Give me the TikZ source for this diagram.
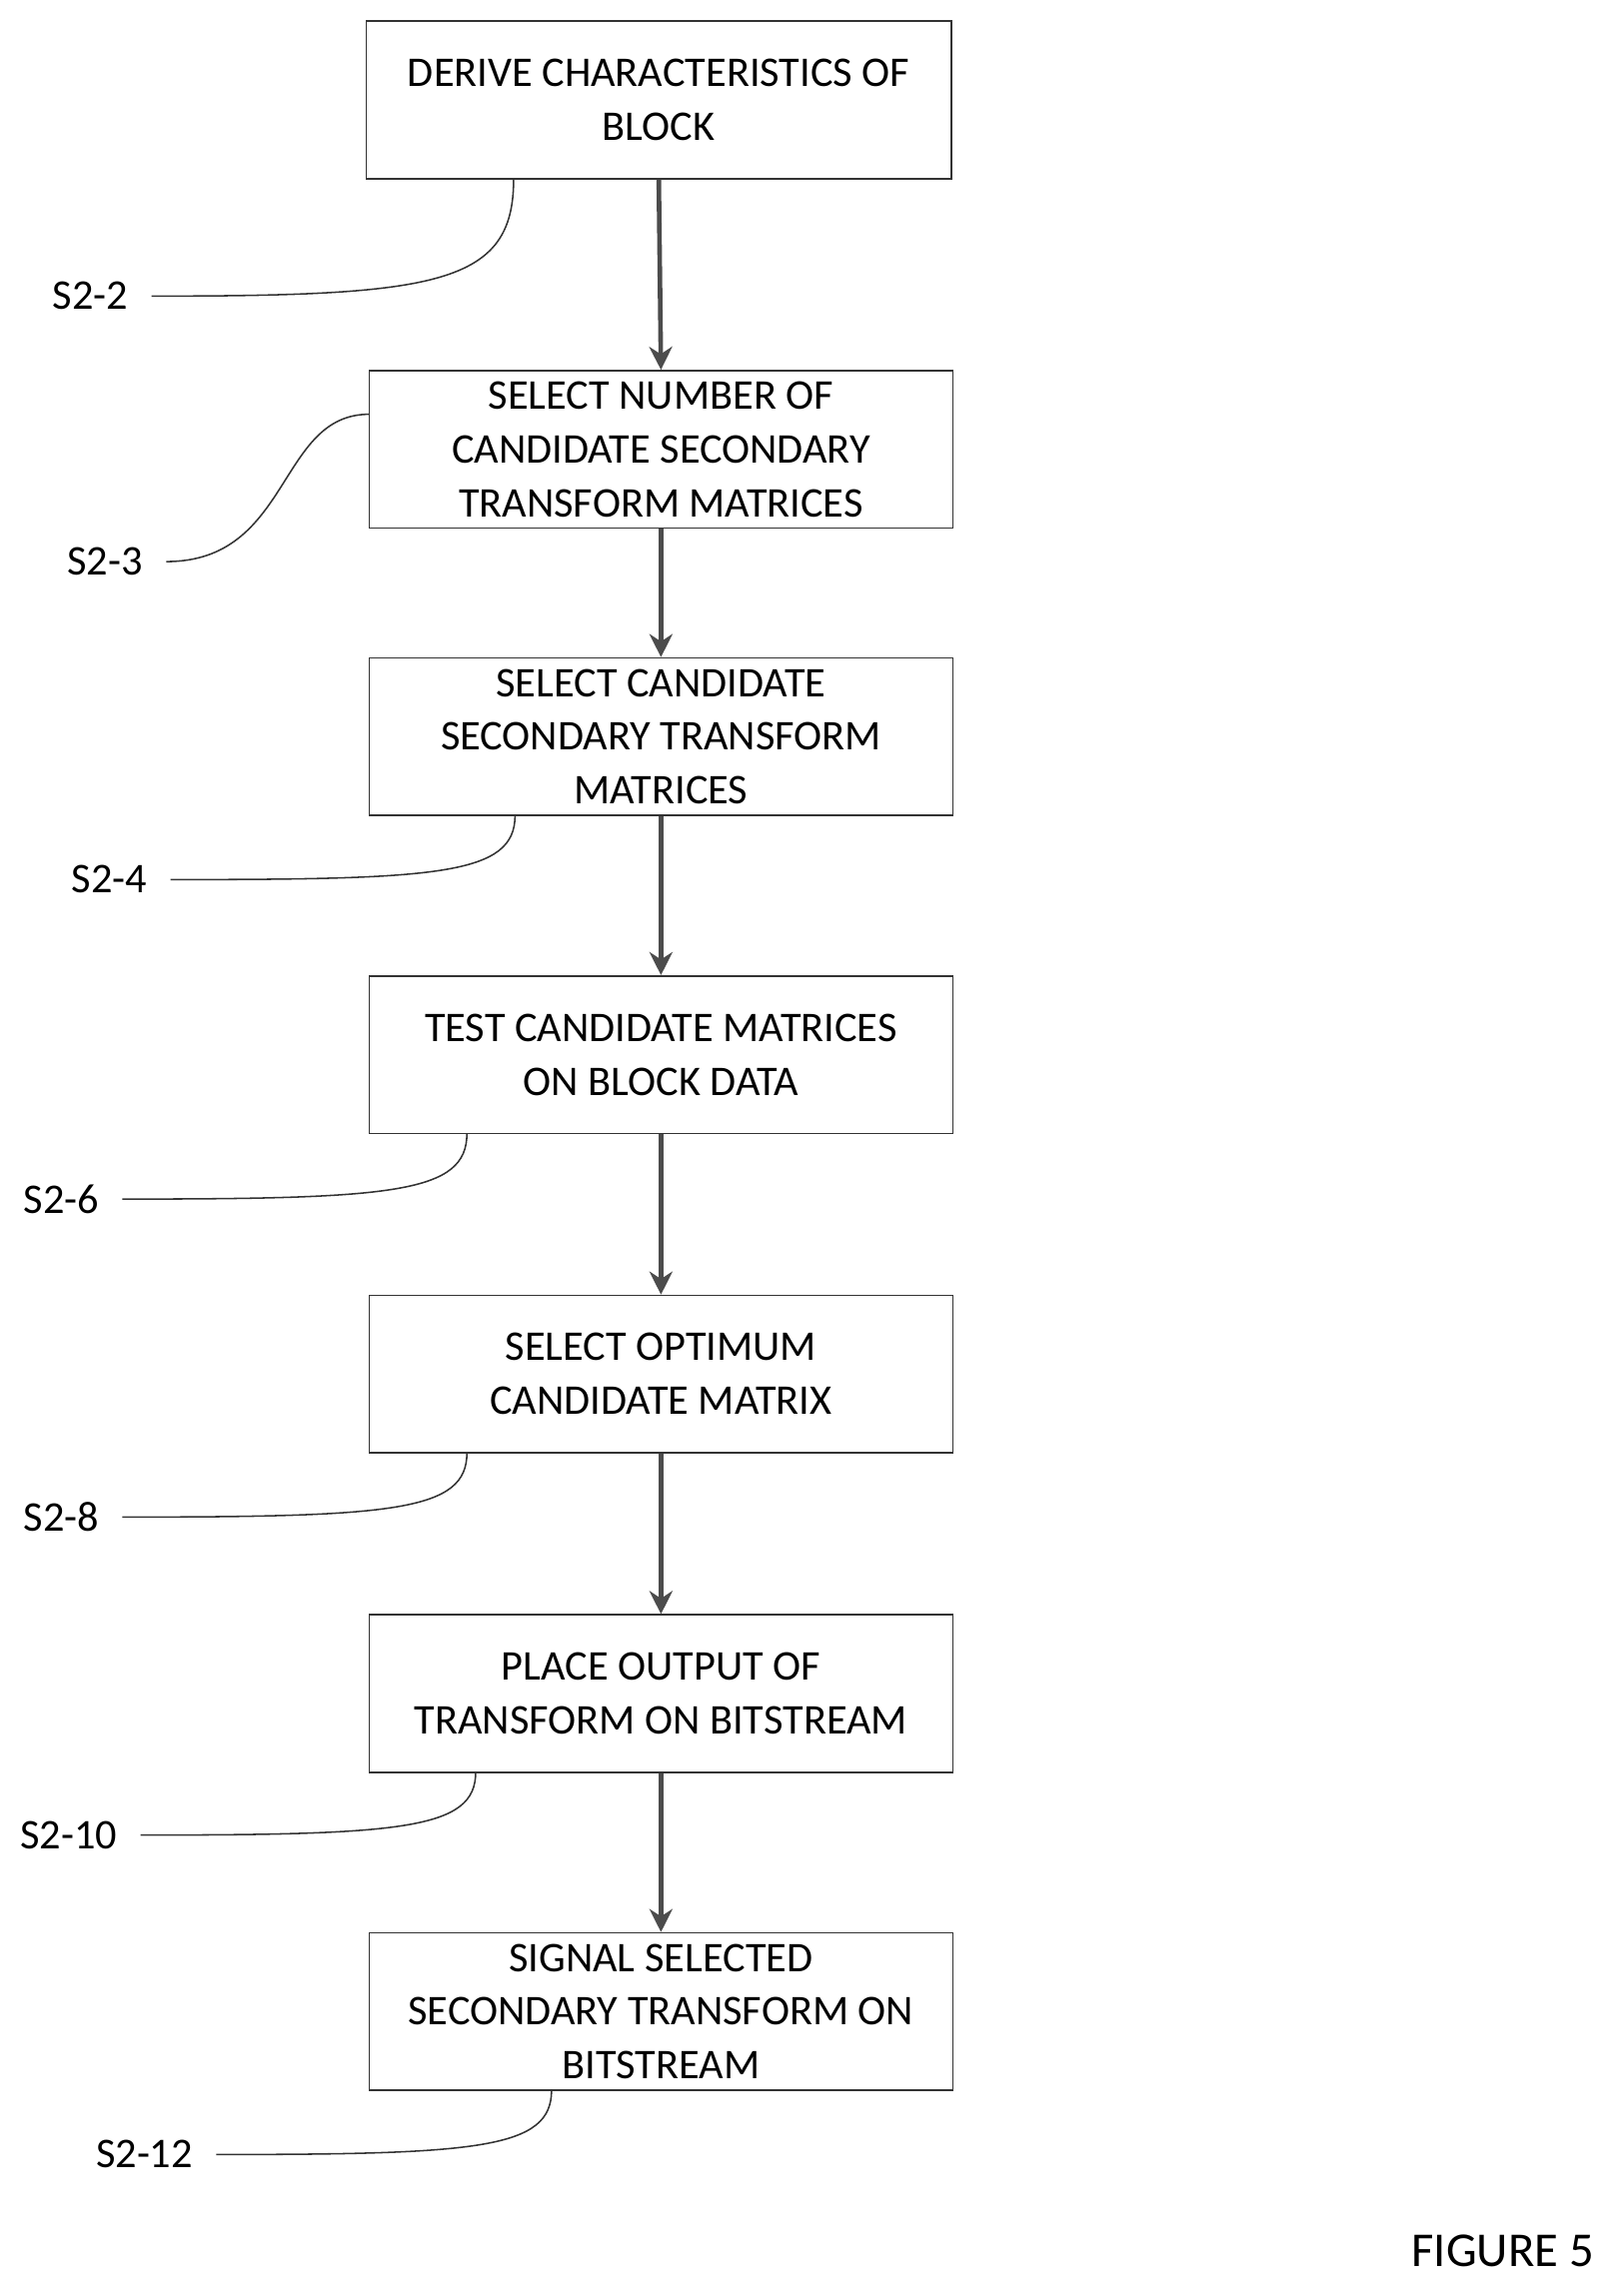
\documentclass[tikz,border=0pt]{standalone}
\usetikzlibrary{arrows.meta}
\usepackage{fontspec}
\setmainfont{Carlito}
\begin{document}
\begin{tikzpicture}[x=0.02cm,y=-0.02cm,
  box/.style={draw=black!80,line width=0.6pt,minimum width=8cm,minimum height=2.16cm,align=center,font=\fontsize{16.5}{21}\selectfont,inner sep=2pt},
  arr/.style={draw=black!70,line width=1.8pt,-{Stealth[length=9pt,width=9pt]}},
  lead/.style={draw=black!80,line width=0.6pt},
  lab/.style={font=\fontsize{16.5}{20}\selectfont,inner sep=1pt}]
\useasboundingbox (0,0) rectangle (1113,1574);
\node[box,minimum width=8.02cm] (b1) at (451.5,68.5) {DERIVE CHARACTERISTICS OF\\BLOCK};
\node[box] (b2) at (453,308) {SELECT NUMBER OF\\CANDIDATE SECONDARY\\TRANSFORM MATRICES};
\node[box] (b3) at (453,505) {SELECT CANDIDATE\\SECONDARY TRANSFORM\\MATRICES};
\node[box] (b4) at (453,723) {TEST CANDIDATE MATRICES\\ON BLOCK DATA};
\node[box] (b5) at (453,942) {SELECT OPTIMUM\\CANDIDATE MATRIX};
\node[box] (b6) at (453,1161) {PLACE OUTPUT OF\\TRANSFORM ON BITSTREAM};
\node[box] (b7) at (453,1379) {SIGNAL SELECTED\\SECONDARY TRANSFORM ON\\BITSTREAM};
\foreach \a/\b in {b1/b2,b2/b3,b3/b4,b4/b5,b5/b6,b6/b7}
  \draw[arr] (\a.south) -- (\b.north);
\node[lab] (l2) at (62,203) {S2-2};
\node[lab] (l3) at (72,385) {S2-3};
\node[lab] (l4) at (75,603) {S2-4};
\node[lab] (l6) at (42,822) {S2-6};
\node[lab] (l8) at (42,1040) {S2-8};
\node[lab] (l10) at (47,1258) {S2-10};
\node[lab] (l12) at (99,1477) {S2-12};
\node[lab,font=\fontsize{19}{22}\selectfont] (fig) at (1030,1543) {FIGURE 5};
\coordinate (c2) at (352,123);
\coordinate (c3) at (253,284);
\coordinate (c4) at (353,559);
\coordinate (c6) at (320,777);
\coordinate (c8) at (320,996);
\coordinate (c10) at (326,1215);
\coordinate (c12) at (378,1433);
\draw[lead] (l2.east)++(14,0) .. controls (300,203) and (352,195) .. (c2);
\draw[lead] (l3.east)++(14,0) .. controls (200,385) and (190,284) .. (c3);
\draw[lead] (l4.east)++(14,0) .. controls (300,603) and (353,600) .. (c4);
\draw[lead] (l6.east)++(14,0) .. controls (270,822) and (320,818) .. (c6);
\draw[lead] (l8.east)++(14,0) .. controls (270,1040) and (320,1036) .. (c8);
\draw[lead] (l10.east)++(14,0) .. controls (276,1258) and (326,1254) .. (c10);
\draw[lead] (l12.east)++(14,0) .. controls (328,1477) and (378,1473) .. (c12);
\end{tikzpicture}
\end{document}
